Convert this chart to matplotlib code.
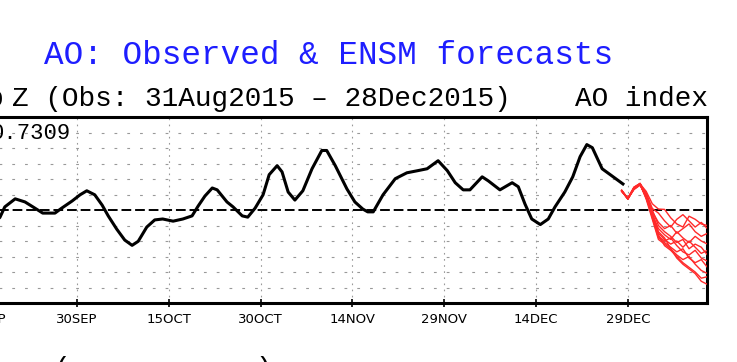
import matplotlib
matplotlib.use('Agg')
import matplotlib.pyplot as plt
import matplotlib.dates as mdates
import numpy as np
from datetime import datetime

# Observed AO: days after 31Aug2015, index value
obs_day = [0, 4, 8, 12, 15, 17.4, 18.2, 19.9, 21.5, 22.8, 24.4, 26.4, 27.5, 29.2,
           30.5, 31.6, 32.9, 34.1, 35.1, 36.5, 37.8, 39.0, 40.0, 41.4, 42.7, 44.0,
           45.7, 47.3, 48.8, 49.8, 50.9, 52.1, 52.9, 54.5, 55.5, 57.0, 57.9, 59.1,
           60.4, 61.4, 62.7, 63.5, 64.5, 65.6, 66.9, 68.4, 70.0, 70.8, 72.2, 74.1,
           75.4, 76.7, 77.5, 78.4, 80.0, 82.0, 83.9, 85.7, 87.2, 89.0, 90.5, 91.8,
           93.1, 94.2, 96.2, 97.2, 99.1, 101.1, 102.1, 103.2, 104.3, 105.7, 107.0,
           108.1, 109.7, 111.0, 112.2, 113.3, 114.2, 115.8, 117.4, 119.2]
obs_ao = [0.35, 0.10, -0.30, -0.70, -0.65, -0.24, 0.10, 0.36, 0.26, 0.10, -0.10, -0.10,
          0.06, 0.29, 0.49, 0.62, 0.49, 0.16, -0.19, -0.62, -0.97, -1.14, -1.01, -0.55,
          -0.32, -0.29, -0.36, -0.29, -0.19, 0.13, 0.45, 0.71, 0.65, 0.26, 0.10, -0.19,
          -0.23, 0.06, 0.49, 1.14, 1.43, 1.23, 0.58, 0.32, 0.62, 1.33, 1.92, 1.92, 1.43,
          0.68, 0.26, 0.03, -0.06, -0.06, 0.49, 1.01, 1.20, 1.27, 1.33, 1.59, 1.27, 0.88,
          0.65, 0.65, 1.07, 0.94, 0.65, 0.88, 0.75, 0.19, -0.29, -0.47, -0.29, 0.10, 0.58,
          1.07, 1.72, 2.11, 2.01, 1.33, 1.10, 0.84]

# ENSM forecast members, daily from 28Dec2015 (day 119) for 15 days
fc_start = 119
ens = [
    [0.62, 0.38, 0.70, 0.84, 0.60, 0.20, 0.03, 0.02, -0.25, -0.45, -0.55, -0.20, -0.30, -0.45, -0.50],
    [0.60, 0.36, 0.68, 0.82, 0.55, 0.05, -0.10, -0.35, -0.55, -0.30, -0.15, -0.35, -0.55, -0.40, -0.60],
    [0.64, 0.35, 0.72, 0.86, 0.48, -0.05, -0.40, -0.60, -0.50, -0.75, -0.60, -0.45, -0.70, -0.85, -0.75],
    [0.62, 0.37, 0.66, 0.80, 0.42, -0.15, -0.60, -0.80, -0.95, -0.70, -0.90, -1.05, -0.85, -1.00, -1.10],
    [0.61, 0.36, 0.70, 0.83, 0.40, -0.10, -0.75, -0.95, -1.10, -1.00, -1.20, -1.00, -1.20, -1.40, -1.30],
    [0.63, 0.38, 0.74, 0.85, 0.38, -0.20, -0.85, -1.00, -0.90, -1.15, -1.35, -1.45, -1.30, -1.55, -1.65],
    [0.62, 0.35, 0.69, 0.81, 0.45, -0.25, -0.90, -1.05, -1.20, -1.35, -1.25, -1.55, -1.70, -1.60, -1.85],
    [0.60, 0.37, 0.71, 0.84, 0.35, -0.30, -0.95, -1.10, -1.25, -1.45, -1.60, -1.50, -1.75, -1.95, -2.05],
    [0.63, 0.36, 0.67, 0.82, 0.40, -0.20, -0.80, -1.15, -1.30, -1.50, -1.70, -1.85, -2.00, -2.20, -2.15],
    [0.62, 0.38, 0.73, 0.86, 0.50, -0.10, -0.70, -0.90, -1.25, -1.55, -1.75, -1.90, -2.05, -2.30, -2.40],
    [0.61, 0.37, 0.70, 0.83, 0.45, 0.00, -0.50, -0.70, -0.85, -1.05, -0.95, -1.25, -1.10, -1.20, -1.45],
]

tick_dates = ['2015-09-15', '2015-09-30', '2015-10-15', '2015-10-30',
              '2015-11-14', '2015-11-29', '2015-12-14', '2015-12-29']
tick_labels = ['15SEP', '30SEP', '15OCT', '30OCT', '14NOV', '29NOV', '14DEC', '29DEC']

W, H = 737, 362
fig = plt.figure(figsize=(W / 100, H / 100), dpi=100)
# axes left edge falls outside the picture (cropped plot)
ax = fig.add_axes([-106.6 / W, (H - 303) / H, 814 / W, 186 / H])

base = mdates.date2num(datetime(2015, 8, 31))
ax.plot(base + np.array(obs_day), obs_ao, color='black', lw=2.2, zorder=4)
for m in ens:
    ax.plot(base + fc_start + np.arange(len(m)), m, color='#ff2a2a', lw=1.0, zorder=3)

ax.axhline(0, color='black', lw=1.4, ls=(0, (5, 2)), zorder=2)
for yv in [-2.5, -2, -1.5, -1, -0.5, 0.5, 1, 1.5, 2, 2.5]:
    ax.axhline(yv, color='#999999', lw=0.8, ls=(0, (2.5, 9)), zorder=1)
ticks = [mdates.date2num(datetime.strptime(d, '%Y-%m-%d')) for d in tick_dates]
for t in ticks:
    ax.axvline(t, color='#999999', lw=0.8, ls=(0, (1.5, 4)), zorder=1)

ax.set_xlim(base, base + 133)
ax.set_ylim(-3, 3)
ax.set_yticks([])
ax.set_xticks(ticks)
ax.set_xticklabels(tick_labels, family=['Liberation Sans Narrow', 'DejaVu Sans'], fontsize=9.5)
ax.tick_params(axis='x', direction='inout', length=6, width=1.2, pad=4)
for s in ax.spines.values():
    s.set_linewidth(2.2)

mono = ['Liberation Mono', 'DejaVu Sans Mono']
fig.text(329 / W, 1 - 64 / H, 'AO: Observed & ENSM forecasts', color='#1e1eff',
         family=mono, fontsize=23.5, ha='center', va='baseline')
fig.text(4 / W, 1 - 106 / H, '1000mb', family=mono, fontsize=20, ha='right', va='baseline')
fig.text(12 / W, 1 - 106 / H, 'Z (Obs: 31Aug2015 \u2013 28Dec2015)', family=mono,
         fontsize=20, ha='left', va='baseline')
fig.text(708 / W, 1 - 106 / H, 'AO index', family=mono, fontsize=20, ha='right', va='baseline')
fig.text(71 / W, 1 - 139 / H, '0.7309', family=mono, fontsize=16, ha='right', va='baseline')
fig.text(62 / W, 1 - 356 / H, '(', family=mono, fontsize=20, ha='center', va='top')
fig.text(264 / W, 1 - 356 / H, ')', family=mono, fontsize=20, ha='center', va='top')

fig.savefig('out.png', dpi=100)
